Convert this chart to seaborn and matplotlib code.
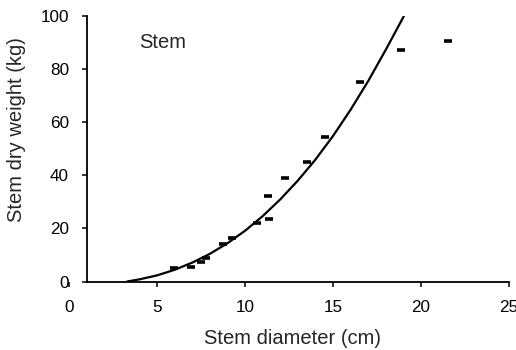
import numpy as np
import pandas as pd
import seaborn as sns
import matplotlib
matplotlib.use("Agg")
import matplotlib.pyplot as plt

# Observed data (stem diameter cm, stem dry weight kg)
diameter = [5.97, 6.93, 7.5, 7.8, 8.75, 9.26, 10.68, 11.36, 11.3, 12.27, 13.52, 14.55, 16.53, 18.86, 21.53]
weight = [5.1, 5.5, 7.2, 8.8, 14.1, 16.4, 22.0, 23.5, 32.2, 39.0, 45.0, 54.4, 75.1, 87.2, 90.6]

# Fitted curve
curve_x = [3.3, 4, 5, 6, 7, 8, 9, 10, 11, 12, 13, 14, 15, 16, 17, 18, 19.03]
curve_y = [0, 0.8, 2.3, 4.4, 7.1, 10.4, 14.4, 19.1, 24.6, 30.9, 38.0, 45.9, 54.8, 64.7, 75.5, 87.3, 100]

x_ticks = [0, 5, 10, 15, 20, 25]
y_ticks = [0, 20, 40, 60, 80, 100]

sns.set_style("ticks")
plt.rcParams['font.family'] = ['Liberation Sans', 'DejaVu Sans']

fig = plt.figure(figsize=(5.16, 3.5), dpi=100)
ax = fig.add_axes([69/516, 1-281.5/350, (509-69)/516, (281.5-16)/350])

pts = pd.DataFrame({"d": diameter, "w": weight})
crv = pd.DataFrame({"x": curve_x, "y": curve_y})

sns.lineplot(data=crv, x="x", y="y", ax=ax, color="black", linewidth=1.6, sort=False)
sns.scatterplot(data=pts, x="d", y="w", ax=ax, marker="_", s=32, color="black",
                linewidth=2.6, edgecolor="black")

ax.set_xlim(0, 25)
ax.set_ylim(0, 100)
ax.set_xticks(x_ticks)
ax.set_yticks(y_ticks)
ax.set_xticklabels([str(t) for t in x_ticks])
ax.set_yticklabels([str(t) for t in y_ticks])

ax.spines['top'].set_visible(False)
ax.spines['right'].set_visible(False)
ax.spines['left'].set_position(('data', 1))
ax.spines['bottom'].set_bounds(1, 25)
for s in ['left', 'bottom']:
    ax.spines[s].set_linewidth(1.3)
    ax.spines[s].set_color('black')

ax.tick_params(axis='both', direction='out', length=3.6, width=1.1, colors='black',
               labelsize=12.3)
ax.tick_params(axis='y', pad=9)
ax.tick_params(axis='x', pad=10)

ax.set_xlabel("Stem diameter (cm)", fontsize=14.5)
ax.set_ylabel("Stem dry weight (kg)", fontsize=14.5)
ax.xaxis.set_label_coords((293 - 69) / 440, (281.5 - 329) / 265.5)
ax.yaxis.set_label_coords((26 - 69) / 440, (281.5 - 130) / 265.5)

ax.text(5.34, 90.2, "Stem", fontsize=14.5, ha="center", va="center")

fig.savefig("out.png", dpi=100)
